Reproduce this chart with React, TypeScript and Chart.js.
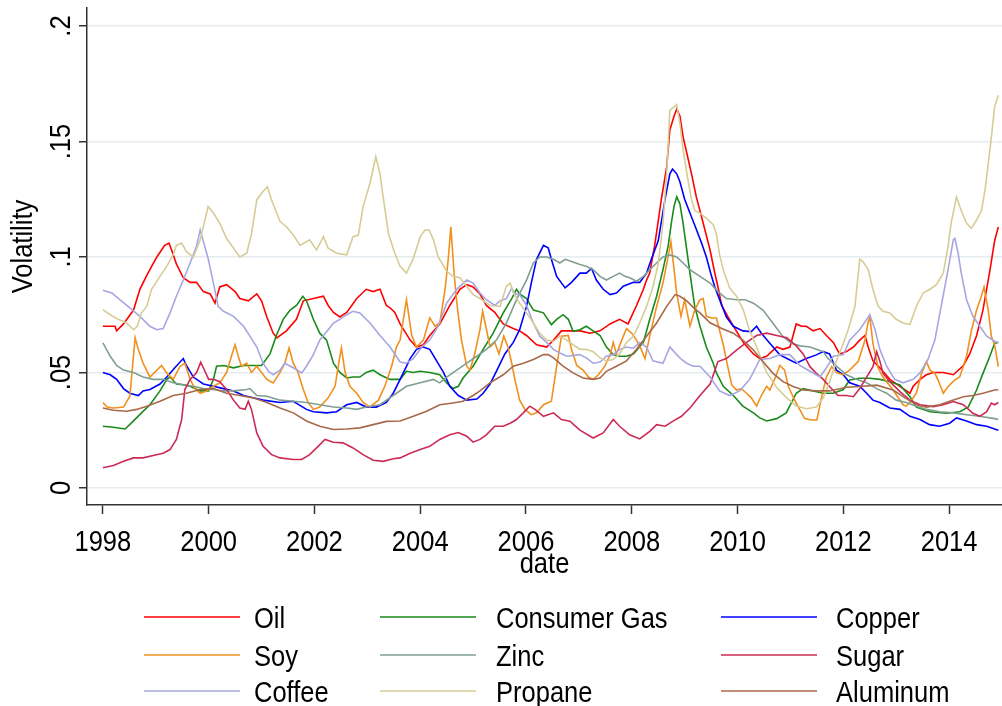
import React, { useEffect, useRef } from 'react';
import { Chart, registerables } from 'chart.js';

Chart.register(...registerables);

const FONT = "'Liberation Sans', Arial, sans-serif";
const FONT_SIZE = 29;
const NARROW = 0.88; // horizontal condensing of the text, like a narrow face

// ---- Data: [year, volatility] ----
const oil: [number, number][] = [[1998.00,.070],[1998.23,.070],[1998.26,.068],[1998.39,.071],[1998.58,.077],[1998.70,.086],[1998.83,.092],[1999.02,.100],[1999.17,.105],[1999.25,.106],[1999.30,.103],[1999.39,.097],[1999.52,.091],[1999.65,.089],[1999.77,.089],[1999.90,.085],[2000.03,.084],[2000.12,.080],[2000.21,.087],[2000.34,.088],[2000.50,.085],[2000.59,.082],[2000.75,.081],[2000.91,.084],[2001.00,.081],[2001.10,.074],[2001.22,.067],[2001.29,.065],[2001.47,.068],[2001.66,.073],[2001.79,.081],[2001.98,.082],[2002.17,.083],[2002.26,.079],[2002.36,.076],[2002.48,.074],[2002.61,.076],[2002.80,.082],[2002.98,.086],[2003.11,.085],[2003.24,.086],[2003.36,.079],[2003.43,.078],[2003.52,.076],[2003.62,.071],[2003.81,.064],[2003.93,.061],[2004.06,.062],[2004.18,.066],[2004.37,.071],[2004.56,.079],[2004.75,.086],[2004.88,.088],[2005.00,.087],[2005.13,.084],[2005.25,.079],[2005.41,.076],[2005.57,.071],[2005.76,.069],[2005.88,.068],[2006.01,.066],[2006.20,.062],[2006.39,.061],[2006.52,.064],[2006.67,.068],[2006.83,.068],[2007.02,.068],[2007.21,.067],[2007.40,.068],[2007.59,.071],[2007.77,.073],[2007.93,.071],[2008.09,.079],[2008.22,.086],[2008.28,.090],[2008.34,.093],[2008.44,.106],[2008.56,.125],[2008.66,.139],[2008.72,.155],[2008.80,.161],[2008.85,.164],[2008.91,.161],[2008.97,.152],[2009.04,.145],[2009.13,.136],[2009.22,.126],[2009.29,.120],[2009.38,.112],[2009.48,.103],[2009.57,.093],[2009.63,.087],[2009.70,.079],[2009.82,.074],[2009.95,.069],[2010.11,.063],[2010.30,.058],[2010.42,.056],[2010.55,.057],[2010.74,.061],[2010.86,.060],[2010.99,.061],[2011.11,.071],[2011.21,.070],[2011.30,.070],[2011.43,.068],[2011.56,.069],[2011.68,.066],[2011.81,.063],[2011.93,.058],[2012.06,.059],[2012.19,.061],[2012.31,.064],[2012.41,.066],[2012.47,.061],[2012.56,.055],[2012.69,.052],[2012.88,.047],[2013.07,.044],[2013.26,.041],[2013.32,.044],[2013.45,.047],[2013.57,.049],[2013.70,.050],[2013.89,.050],[2014.08,.049],[2014.27,.053],[2014.39,.058],[2014.52,.066],[2014.64,.077],[2014.77,.094],[2014.86,.107],[2014.93,.113]];

const consumerGas: [number, number][] = [[1998.00,.0267],[1998.20,.0263],[1998.42,.0255],[1998.58,.029],[1998.73,.0325],[1998.89,.036],[1999.08,.042],[1999.21,.047],[1999.27,.048],[1999.39,.045],[1999.52,.0447],[1999.65,.044],[1999.74,.043],[1999.84,.042],[2000.00,.042],[2000.09,.047],[2000.15,.0527],[2000.28,.053],[2000.47,.052],[2000.66,.053],[2000.84,.053],[2001.00,.053],[2001.16,.058],[2001.28,.066],[2001.41,.073],[2001.54,.077],[2001.66,.079],[2001.78,.083],[2001.85,.081],[2001.98,.073],[2002.10,.067],[2002.23,.064],[2002.36,.054],[2002.48,.050],[2002.61,.0476],[2002.73,.048],[2002.86,.048],[2002.98,.050],[2003.11,.051],[2003.24,.049],[2003.43,.047],[2003.62,.047],[2003.74,.0505],[2003.87,.050],[2004.00,.0505],[2004.18,.050],[2004.37,.049],[2004.50,.0455],[2004.62,.043],[2004.72,.044],[2004.81,.0476],[2005.00,.0527],[2005.19,.060],[2005.38,.067],[2005.57,.0758],[2005.73,.082],[2005.82,.086],[2005.88,.084],[2006.01,.082],[2006.14,.077],[2006.33,.0758],[2006.48,.0707],[2006.58,.073],[2006.70,.075],[2006.80,.073],[2006.89,.0678],[2007.02,.0685],[2007.14,.070],[2007.27,.068],[2007.40,.066],[2007.52,.061],[2007.65,.0577],[2007.77,.057],[2007.90,.057],[2008.03,.058],[2008.22,.063],[2008.34,.073],[2008.47,.083],[2008.59,.0945],[2008.69,.105],[2008.75,.115],[2008.80,.122],[2008.85,.126],[2008.91,.123],[2008.97,.1146],[2009.04,.103],[2009.10,.093],[2009.19,.0786],[2009.29,.070],[2009.41,.061],[2009.54,.054],[2009.60,.0498],[2009.73,.044],[2009.92,.040],[2010.10,.0354],[2010.30,.0325],[2010.42,.0303],[2010.55,.029],[2010.74,.030],[2010.92,.0325],[2011.11,.041],[2011.24,.043],[2011.43,.042],[2011.62,.041],[2011.81,.041],[2012.00,.0426],[2012.12,.0467],[2012.31,.0475],[2012.50,.0475],[2012.69,.047],[2012.88,.046],[2013.07,.0446],[2013.26,.0395],[2013.38,.035],[2013.64,.033],[2013.95,.0323],[2014.20,.033],[2014.36,.035],[2014.52,.0424],[2014.64,.0496],[2014.77,.057],[2014.86,.0626],[2014.93,.063]];

const copper: [number, number][] = [[1998.00,.050],[1998.14,.049],[1998.26,.047],[1998.39,.043],[1998.51,.041],[1998.67,.040],[1998.76,.042],[1998.89,.0426],[1999.08,.045],[1999.21,.048],[1999.36,.052],[1999.52,.056],[1999.58,.053],[1999.71,.048],[1999.90,.045],[2000.09,.044],[2000.28,.043],[2000.47,.042],[2000.66,.040],[2000.84,.039],[2001.03,.038],[2001.35,.037],[2001.60,.0375],[2001.85,.034],[2001.98,.033],[2002.23,.0325],[2002.42,.033],[2002.61,.036],[2002.80,.037],[2002.98,.035],[2003.17,.035],[2003.36,.037],[2003.49,.041],[2003.62,.047],[2003.81,.056],[2003.93,.060],[2004.06,.061],[2004.18,.060],[2004.31,.055],[2004.44,.050],[2004.56,.044],[2004.72,.040],[2004.88,.038],[2005.07,.0385],[2005.19,.041],[2005.32,.045],[2005.44,.0505],[2005.60,.058],[2005.76,.063],[2005.88,.0685],[2006.01,.0786],[2006.10,.0887],[2006.20,.099],[2006.33,.105],[2006.42,.104],[2006.48,.099],[2006.58,.0916],[2006.74,.0866],[2006.86,.089],[2007.02,.093],[2007.14,.093],[2007.24,.095],[2007.33,.090],[2007.46,.086],[2007.59,.0837],[2007.71,.0844],[2007.84,.0873],[2008.03,.089],[2008.15,.089],[2008.28,.093],[2008.37,.099],[2008.50,.107],[2008.63,.125],[2008.72,.136],[2008.77,.138],[2008.85,.136],[2008.91,.1326],[2009.00,.125],[2009.10,.119],[2009.22,.112],[2009.32,.106],[2009.41,.100],[2009.51,.0915],[2009.57,.087],[2009.67,.081],[2009.79,.074],[2009.92,.070],[2010.10,.068],[2010.26,.0677],[2010.36,.070],[2010.45,.067],[2010.61,.0626],[2010.80,.0576],[2010.99,.0554],[2011.11,.054],[2011.30,.056],[2011.49,.0576],[2011.62,.059],[2011.74,.058],[2011.87,.051],[2012.00,.049],[2012.12,.0455],[2012.31,.044],[2012.44,.041],[2012.56,.038],[2012.69,.037],[2012.88,.0346],[2013.07,.034],[2013.26,.031],[2013.45,.0296],[2013.63,.0274],[2013.82,.0267],[2014.01,.028],[2014.14,.0303],[2014.33,.029],[2014.52,.0274],[2014.71,.0267],[2014.86,.0255],[2014.93,.025]];

const soy: [number, number][] = [[1998.00,.037],[1998.08,.035],[1998.20,.0346],[1998.39,.035],[1998.51,.0397],[1998.61,.065],[1998.67,.060],[1998.76,.054],[1998.89,.048],[1998.98,.050],[1999.11,.053],[1999.20,.050],[1999.33,.047],[1999.46,.0527],[1999.55,.054],[1999.65,.047],[1999.74,.043],[1999.84,.041],[1999.96,.042],[2000.09,.044],[2000.21,.0455],[2000.34,.050],[2000.43,.057],[2000.50,.062],[2000.56,.057],[2000.62,.0527],[2000.72,.054],[2000.81,.050],[2000.91,.0527],[2001.00,.050],[2001.10,.047],[2001.22,.0455],[2001.35,.050],[2001.44,.054],[2001.52,.0606],[2001.60,.054],[2001.69,.050],[2001.79,.0426],[2001.88,.037],[2001.98,.034],[2002.10,.035],[2002.26,.039],[2002.39,.044],[2002.45,.0527],[2002.51,.0606],[2002.58,.050],[2002.67,.044],[2002.80,.041],[2002.92,.037],[2003.05,.035],[2003.21,.038],[2003.33,.044],[2003.46,.0527],[2003.55,.061],[2003.62,.064],[2003.74,.0815],[2003.84,.066],[2003.93,.061],[2004.06,.064],[2004.18,.0736],[2004.28,.070],[2004.37,.0714],[2004.47,.086],[2004.53,.099],[2004.58,.113],[2004.64,.093],[2004.70,.0786],[2004.78,.064],[2004.88,.0527],[2004.94,.051],[2005.03,.058],[2005.13,.0685],[2005.18,.0765],[2005.24,.070],[2005.32,.061],[2005.41,.063],[2005.49,.058],[2005.58,.0657],[2005.66,.061],[2005.73,.054],[2005.79,.047],[2005.88,.038],[2005.98,.034],[2006.10,.0317],[2006.20,.0325],[2006.33,.036],[2006.48,.0375],[2006.58,.0527],[2006.67,.0657],[2006.80,.066],[2006.86,.060],[2006.96,.053],[2007.08,.051],[2007.18,.048],[2007.27,.047],[2007.37,.049],[2007.49,.0527],[2007.59,.0577],[2007.65,.063],[2007.71,.058],[2007.81,.064],[2007.90,.069],[2008.00,.067],[2008.09,.064],[2008.18,.060],[2008.25,.056],[2008.34,.0657],[2008.47,.0786],[2008.59,.0887],[2008.74,.1066],[2008.80,.0945],[2008.85,.084],[2008.93,.0743],[2009.00,.0815],[2009.10,.070],[2009.19,.077],[2009.29,.0815],[2009.35,.082],[2009.41,.0743],[2009.51,.0736],[2009.60,.0736],[2009.73,.062],[2009.82,.052],[2009.89,.0446],[2009.98,.0424],[2010.07,.043],[2010.17,.041],[2010.26,.039],[2010.36,.0354],[2010.45,.040],[2010.55,.044],[2010.61,.0424],[2010.70,.047],[2010.80,.053],[2010.89,.051],[2010.96,.0439],[2011.08,.038],[2011.18,.0338],[2011.27,.030],[2011.40,.0294],[2011.50,.0294],[2011.59,.0395],[2011.68,.048],[2011.78,.0525],[2011.87,.050],[2011.99,.049],[2012.12,.051],[2012.28,.0547],[2012.41,.064],[2012.47,.072],[2012.50,.074],[2012.56,.0626],[2012.66,.0518],[2012.75,.048],[2012.94,.0424],[2013.13,.036],[2013.19,.0354],[2013.29,.038],[2013.38,.041],[2013.48,.0496],[2013.57,.0547],[2013.64,.051],[2013.73,.0496],[2013.79,.0468],[2013.89,.041],[2013.98,.0439],[2014.11,.0468],[2014.20,.048],[2014.33,.057],[2014.42,.068],[2014.52,.077],[2014.61,.083],[2014.66,.087],[2014.74,.077],[2014.80,.0655],[2014.86,.062],[2014.93,.0525]];

const zinc: [number, number][] = [[1998.00,.0628],[1998.14,.057],[1998.26,.053],[1998.39,.051],[1998.58,.050],[1998.76,.048],[1998.95,.047],[1999.14,.047],[1999.33,.0455],[1999.52,.0447],[1999.71,.044],[1999.90,.043],[2000.09,.0426],[2000.28,.042],[2000.47,.042],[2000.72,.0426],[2000.78,.043],[2000.91,.040],[2001.10,.0397],[2001.35,.038],[2001.60,.0375],[2001.85,.037],[2002.10,.036],[2002.36,.035],[2002.61,.0346],[2002.80,.034],[2002.98,.035],[2003.24,.036],[2003.49,.040],[2003.74,.044],[2004.00,.0455],[2004.25,.047],[2004.37,.0455],[2004.50,.048],[2004.69,.051],[2004.88,.054],[2005.07,.057],[2005.25,.060],[2005.44,.064],[2005.63,.0714],[2005.82,.0815],[2006.01,.090],[2006.14,.0974],[2006.26,.100],[2006.39,.100],[2006.52,.099],[2006.64,.0974],[2006.74,.099],[2006.86,.098],[2007.02,.0967],[2007.14,.096],[2007.27,.0945],[2007.40,.0916],[2007.52,.090],[2007.65,.0916],[2007.77,.093],[2007.87,.0916],[2007.96,.091],[2008.09,.0895],[2008.22,.0916],[2008.34,.0945],[2008.47,.0974],[2008.59,.100],[2008.72,.1009],[2008.85,.100],[2008.97,.0974],[2009.10,.0945],[2009.29,.0916],[2009.48,.0887],[2009.63,.085],[2009.79,.082],[2009.98,.0815],[2010.14,.0815],[2010.30,.080],[2010.48,.077],[2010.67,.0713],[2010.86,.0655],[2011.02,.0626],[2011.18,.0615],[2011.37,.061],[2011.62,.059],[2011.71,.056],[2011.87,.0527],[2012.06,.049],[2012.25,.047],[2012.44,.0455],[2012.63,.043],[2012.82,.041],[2013.00,.038],[2013.19,.037],[2013.38,.0354],[2013.57,.034],[2013.82,.033],[2014.08,.0325],[2014.33,.0317],[2014.58,.031],[2014.86,.030],[2014.93,.0296]];

const sugar: [number, number][] = [[1998.00,.0087],[1998.20,.0097],[1998.39,.0115],[1998.58,.013],[1998.76,.013],[1998.95,.014],[1999.14,.015],[1999.27,.0166],[1999.39,.021],[1999.49,.0296],[1999.55,.0426],[1999.65,.047],[1999.77,.0498],[1999.85,.0544],[1999.93,.0505],[2000.00,.047],[2000.09,.047],[2000.21,.046],[2000.34,.0426],[2000.47,.038],[2000.59,.0346],[2000.69,.034],[2000.75,.0375],[2000.81,.034],[2000.91,.0238],[2001.03,.018],[2001.19,.0144],[2001.35,.013],[2001.60,.0123],[2001.76,.0123],[2001.91,.0144],[2002.07,.018],[2002.20,.021],[2002.36,.0198],[2002.54,.0195],[2002.73,.0173],[2002.92,.0144],[2003.11,.012],[2003.30,.0115],[2003.49,.0126],[2003.62,.013],[2003.81,.015],[2004.00,.0166],[2004.18,.018],[2004.37,.021],[2004.56,.023],[2004.72,.024],[2004.88,.0224],[2005.00,.0198],[2005.13,.021],[2005.25,.023],[2005.41,.0267],[2005.57,.0267],[2005.70,.028],[2005.82,.0296],[2005.95,.0325],[2006.07,.0354],[2006.17,.034],[2006.33,.031],[2006.52,.0325],[2006.67,.0296],[2006.83,.0289],[2007.02,.025],[2007.27,.0216],[2007.46,.0238],[2007.65,.0296],[2007.77,.0267],[2007.96,.023],[2008.15,.0212],[2008.34,.0245],[2008.47,.0274],[2008.63,.0267],[2008.78,.0289],[2008.94,.031],[2009.10,.0346],[2009.29,.040],[2009.48,.045],[2009.63,.0547],[2009.79,.056],[2009.98,.0597],[2010.17,.063],[2010.36,.066],[2010.55,.067],[2010.74,.066],[2010.93,.065],[2011.11,.0615],[2011.24,.058],[2011.37,.0525],[2011.49,.0496],[2011.62,.047],[2011.74,.0439],[2011.90,.040],[2012.06,.040],[2012.19,.0395],[2012.31,.043],[2012.44,.048],[2012.56,.0525],[2012.63,.059],[2012.69,.055],[2012.75,.0496],[2012.88,.046],[2013.07,.0417],[2013.26,.038],[2013.45,.036],[2013.70,.0352],[2013.89,.036],[2014.08,.0374],[2014.27,.036],[2014.45,.0323],[2014.58,.031],[2014.71,.033],[2014.80,.0367],[2014.86,.036],[2014.93,.037]];

const coffee: [number, number][] = [[1998.00,.0856],[1998.17,.0844],[1998.32,.0815],[1998.51,.078],[1998.70,.0743],[1998.89,.070],[1999.02,.0685],[1999.14,.069],[1999.27,.0758],[1999.39,.083],[1999.52,.090],[1999.65,.0974],[1999.77,.1046],[1999.84,.1117],[1999.99,.0994],[2000.09,.0887],[2000.18,.0786],[2000.28,.0765],[2000.47,.0743],[2000.66,.070],[2000.78,.0657],[2000.91,.061],[2001.03,.054],[2001.13,.0505],[2001.22,.049],[2001.35,.051],[2001.44,.054],[2001.60,.052],[2001.76,.0498],[2001.85,.0527],[2001.98,.0577],[2002.10,.064],[2002.26,.0685],[2002.36,.0714],[2002.48,.073],[2002.61,.075],[2002.73,.0765],[2002.86,.0758],[2003.05,.0714],[2003.24,.066],[2003.43,.061],[2003.62,.0545],[2003.74,.054],[2003.87,.056],[2004.03,.061],[2004.18,.064],[2004.34,.070],[2004.50,.080],[2004.69,.086],[2004.88,.090],[2005.00,.0887],[2005.13,.0844],[2005.25,.0815],[2005.41,.079],[2005.51,.081],[2005.63,.082],[2005.73,.0866],[2005.79,.084],[2005.88,.0837],[2006.01,.079],[2006.14,.0714],[2006.26,.0657],[2006.39,.063],[2006.52,.060],[2006.64,.0584],[2006.77,.057],[2007.02,.0577],[2007.14,.0563],[2007.27,.054],[2007.40,.0545],[2007.52,.057],[2007.65,.0577],[2007.77,.060],[2007.90,.061],[2008.03,.0605],[2008.15,.063],[2008.28,.061],[2008.40,.055],[2008.59,.054],[2008.72,.061],[2008.85,.0577],[2008.94,.0556],[2009.04,.054],[2009.16,.0527],[2009.29,.0527],[2009.48,.048],[2009.66,.042],[2009.85,.040],[2010.04,.042],[2010.23,.047],[2010.42,.0556],[2010.61,.056],[2010.80,.0577],[2010.99,.0577],[2011.18,.053],[2011.37,.0505],[2011.56,.048],[2011.68,.052],[2011.81,.057],[2012.00,.0577],[2012.12,.064],[2012.31,.0685],[2012.44,.073],[2012.50,.075],[2012.60,.0685],[2012.69,.060],[2012.82,.0527],[2012.97,.047],[2013.13,.0455],[2013.32,.047],[2013.45,.0498],[2013.60,.0556],[2013.73,.064],[2013.85,.0786],[2013.98,.0945],[2014.08,.1075],[2014.11,.108],[2014.17,.1017],[2014.23,.093],[2014.33,.0815],[2014.45,.0743],[2014.58,.070],[2014.71,.0657],[2014.86,.0635],[2014.93,.063]];

const propane: [number, number][] = [[1998.00,.0772],[1998.14,.075],[1998.29,.073],[1998.45,.0714],[1998.58,.0685],[1998.65,.070],[1998.73,.0758],[1998.83,.0786],[1998.92,.086],[1998.98,.088],[1999.08,.0916],[1999.21,.096],[1999.33,.101],[1999.39,.105],[1999.49,.106],[1999.58,.1023],[1999.71,.100],[1999.84,.1074],[1999.99,.1218],[2000.09,.119],[2000.21,.1146],[2000.34,.108],[2000.47,.1038],[2000.59,.100],[2000.72,.1016],[2000.81,.110],[2000.91,.1247],[2001.00,.1276],[2001.11,.1304],[2001.19,.1247],[2001.35,.1153],[2001.47,.1131],[2001.60,.1095],[2001.73,.105],[2001.91,.1074],[2002.04,.103],[2002.17,.1088],[2002.26,.1038],[2002.42,.1016],[2002.61,.1009],[2002.73,.1088],[2002.83,.1095],[2002.92,.1218],[2003.05,.1319],[2003.16,.1434],[2003.24,.136],[2003.30,.126],[2003.40,.110],[2003.52,.1016],[2003.62,.096],[2003.74,.093],[2003.87,.0994],[2004.00,.1088],[2004.09,.1117],[2004.17,.1117],[2004.25,.1074],[2004.34,.100],[2004.50,.0938],[2004.62,.0916],[2004.75,.091],[2004.88,.0873],[2005.00,.0837],[2005.13,.082],[2005.32,.079],[2005.51,.0786],[2005.63,.0873],[2005.70,.0887],[2005.76,.0844],[2005.88,.080],[2006.01,.0758],[2006.14,.0714],[2006.26,.067],[2006.39,.064],[2006.52,.0635],[2006.64,.0657],[2006.77,.064],[2006.89,.062],[2007.02,.060],[2007.14,.060],[2007.27,.059],[2007.40,.0563],[2007.52,.055],[2007.65,.0556],[2007.77,.058],[2007.90,.063],[2008.03,.0657],[2008.15,.0714],[2008.28,.0786],[2008.40,.087],[2008.50,.097],[2008.59,.1146],[2008.66,.136],[2008.72,.1636],[2008.80,.165],[2008.85,.166],[2008.91,.158],[2008.97,.1465],[2009.05,.135],[2009.13,.1248],[2009.19,.120],[2009.29,.119],[2009.41,.1168],[2009.54,.114],[2009.60,.110],[2009.66,.101],[2009.73,.0944],[2009.85,.0866],[2009.98,.083],[2010.11,.077],[2010.23,.068],[2010.36,.061],[2010.55,.050],[2010.74,.0435],[2010.93,.039],[2011.11,.0355],[2011.30,.0343],[2011.49,.035],[2011.62,.039],[2011.74,.046],[2011.87,.055],[2011.99,.062],[2012.09,.0684],[2012.22,.0786],[2012.31,.099],[2012.37,.098],[2012.47,.0945],[2012.56,.0859],[2012.66,.0786],[2012.75,.0765],[2012.88,.0758],[2013.00,.073],[2013.13,.0714],[2013.26,.0707],[2013.38,.0786],[2013.51,.0844],[2013.63,.0859],[2013.76,.088],[2013.89,.093],[2013.98,.1046],[2014.04,.115],[2014.14,.126],[2014.23,.120],[2014.33,.1146],[2014.42,.1124],[2014.52,.116],[2014.61,.120],[2014.68,.129],[2014.74,.1405],[2014.80,.152],[2014.86,.165],[2014.93,.170]];

const aluminum: [number, number][] = [[1998.00,.0346],[1998.20,.0336],[1998.45,.0332],[1998.64,.034],[1998.83,.0354],[1999.08,.0375],[1999.33,.040],[1999.58,.041],[1999.84,.0426],[2000.09,.043],[2000.34,.041],[2000.59,.040],[2000.84,.039],[2001.10,.037],[2001.35,.0346],[2001.60,.0325],[2001.85,.029],[2002.10,.0267],[2002.36,.0253],[2002.61,.0255],[2002.86,.026],[2003.11,.0274],[2003.36,.0288],[2003.62,.029],[2003.87,.031],[2004.12,.0332],[2004.37,.036],[2004.62,.0368],[2004.81,.0375],[2005.00,.040],[2005.13,.042],[2005.32,.0455],[2005.57,.049],[2005.76,.0527],[2005.95,.054],[2006.14,.0556],[2006.33,.0577],[2006.42,.0577],[2006.52,.0563],[2006.70,.0527],[2006.89,.0498],[2007.08,.0476],[2007.27,.047],[2007.40,.0476],[2007.52,.0505],[2007.71,.0527],[2007.90,.055],[2008.09,.060],[2008.28,.0657],[2008.47,.0714],[2008.66,.0786],[2008.82,.0837],[2008.91,.083],[2009.04,.081],[2009.19,.0775],[2009.29,.0758],[2009.48,.0715],[2009.70,.069],[2009.92,.067],[2010.10,.064],[2010.30,.0597],[2010.48,.0547],[2010.67,.0496],[2010.86,.046],[2011.05,.0439],[2011.24,.0424],[2011.49,.042],[2011.74,.042],[2012.06,.0436],[2012.31,.0439],[2012.63,.0445],[2012.94,.0424],[2013.13,.0395],[2013.38,.036],[2013.57,.035],[2013.82,.036],[2014.01,.0375],[2014.27,.0395],[2014.45,.040],[2014.64,.041],[2014.86,.0424],[2014.93,.0425]];

const seriesNames = ['Oil', 'Consumer Gas', 'Copper', 'Soy', 'Zinc', 'Sugar', 'Coffee', 'Propane', 'Aluminum'];
const seriesData = [oil, consumerGas, copper, soy, zinc, sugar, coffee, propane, aluminum];
const seriesColors = ['#ff0000', '#1a8a1a', '#0000ff', '#f0901e', '#809f90', '#cc2a55', '#a6a6e2', '#d6cc96', '#a8694a'];

const xTickYears = [1998, 2000, 2002, 2004, 2006, 2008, 2010, 2012, 2014];
const yTickValues = [0, 0.05, 0.1, 0.15, 0.2];
const yTickLabels = ['0', '.05', '.1', '.15', '.2'];
const xTitle = 'date';
const yTitle = 'Volatility';

// draw condensed text (narrow face look) at x,y with optional rotation
function drawText(ctx: CanvasRenderingContext2D, text: string, x: number, y: number, align: CanvasTextAlign, rotation = 0) {
  ctx.save();
  ctx.translate(x, y);
  if (rotation) ctx.rotate(rotation);
  ctx.scale(NARROW, 1);
  ctx.textAlign = align;
  ctx.textBaseline = 'alphabetic';
  ctx.fillText(text, 0, 0);
  ctx.restore();
}

const textPlugin = {
  id: 'stataText',
  afterDraw(chart: any) {
    const ctx: CanvasRenderingContext2D = chart.ctx;
    const xs = chart.scales.x;
    const ys = chart.scales.y;
    const area = chart.chartArea;
    ctx.save();
    ctx.font = `${FONT_SIZE}px ${FONT}`;
    ctx.fillStyle = '#000';
    // x tick labels
    xTickYears.forEach((yr) => {
      drawText(ctx, String(yr), xs.getPixelForValue(yr), area.bottom + 46, 'center');
    });
    // x title
    drawText(ctx, xTitle, (area.left + area.right) / 2, area.bottom + 68, 'center');
    // y tick labels (rotated)
    yTickValues.forEach((v, i) => {
      drawText(ctx, yTickLabels[i], ys.right - 17, ys.getPixelForValue(v), 'center', -Math.PI / 2);
    });
    // y title (rotated)
    drawText(ctx, yTitle, 32, (area.top + area.bottom) / 2 - 10, 'center', -Math.PI / 2);

    // legend: 3 columns x 3 rows
    const colStarts = [144, 380, 721];
    const textStarts = [254, 496, 836];
    const rowYs = [617, 655, 691];
    const lineLen = 96;
    chart.data.datasets.forEach((ds: any, i: number) => {
      const col = i % 3;
      const x = colStarts[col];
      const y = rowYs[Math.floor(i / 3)];
      ctx.strokeStyle = ds.borderColor;
      ctx.lineWidth = 1.6;
      ctx.beginPath();
      ctx.moveTo(x, y);
      ctx.lineTo(x + lineLen, y);
      ctx.stroke();
      drawText(ctx, ds.label, textStarts[col], y + 10.5, 'left');
    });
    ctx.restore();
  },
};

export default function App() {
  const ref = useRef<HTMLCanvasElement>(null);
  useEffect(() => {
    document.body.style.margin = '0';
    const canvas = ref.current;
    if (!canvas) return;
    const chart = new Chart(canvas, {
      type: 'line',
      data: {
        datasets: seriesData.map((d, i) => ({
          label: seriesNames[i],
          data: d.map(([x, y]) => ({ x, y })),
          borderColor: seriesColors[i],
          backgroundColor: seriesColors[i],
          borderWidth: 1.6,
          pointRadius: 0,
          tension: 0,
          fill: false,
          order: seriesData.length - i,
        })),
      },
      options: {
        responsive: false,
        animation: false,
        devicePixelRatio: 1,
        layout: { padding: { top: 8, right: 0, left: 0, bottom: 126 } },
        plugins: { legend: { display: false }, tooltip: { enabled: false } },
        scales: {
          x: {
            type: 'linear',
            min: 1997.7,
            max: 2015.0,
            afterBuildTicks: (s: any) => { s.ticks = xTickYears.map((v) => ({ value: v })); },
            afterFit: (s: any) => { s.height = 75; },
            ticks: { display: false },
            grid: { drawOnChartArea: false, drawTicks: true, tickLength: 9, tickColor: '#333', tickWidth: 1.5 },
            border: { color: '#333', width: 1.5 },
          },
          y: {
            type: 'linear',
            min: -0.0074,
            max: 0.2078,
            afterBuildTicks: (s: any) => { s.ticks = yTickValues.map((v) => ({ value: v })); },
            afterFit: (s: any) => { s.width = 87; },
            ticks: { display: false },
            grid: { color: '#e4ecef', lineWidth: 1.5, drawTicks: true, tickLength: 8, tickColor: '#333', tickWidth: 1.5 },
            border: { color: '#333', width: 1.5 },
          },
        },
      },
      plugins: [textPlugin],
    } as any);
    return () => chart.destroy();
  }, []);
  return (
    <div style={{ width: 1002, height: 706, position: 'relative', background: '#fff' }}>
      <canvas ref={ref} width={1002} height={706} style={{ display: 'block', width: 1002, height: 706 }} />
    </div>
  );
}
